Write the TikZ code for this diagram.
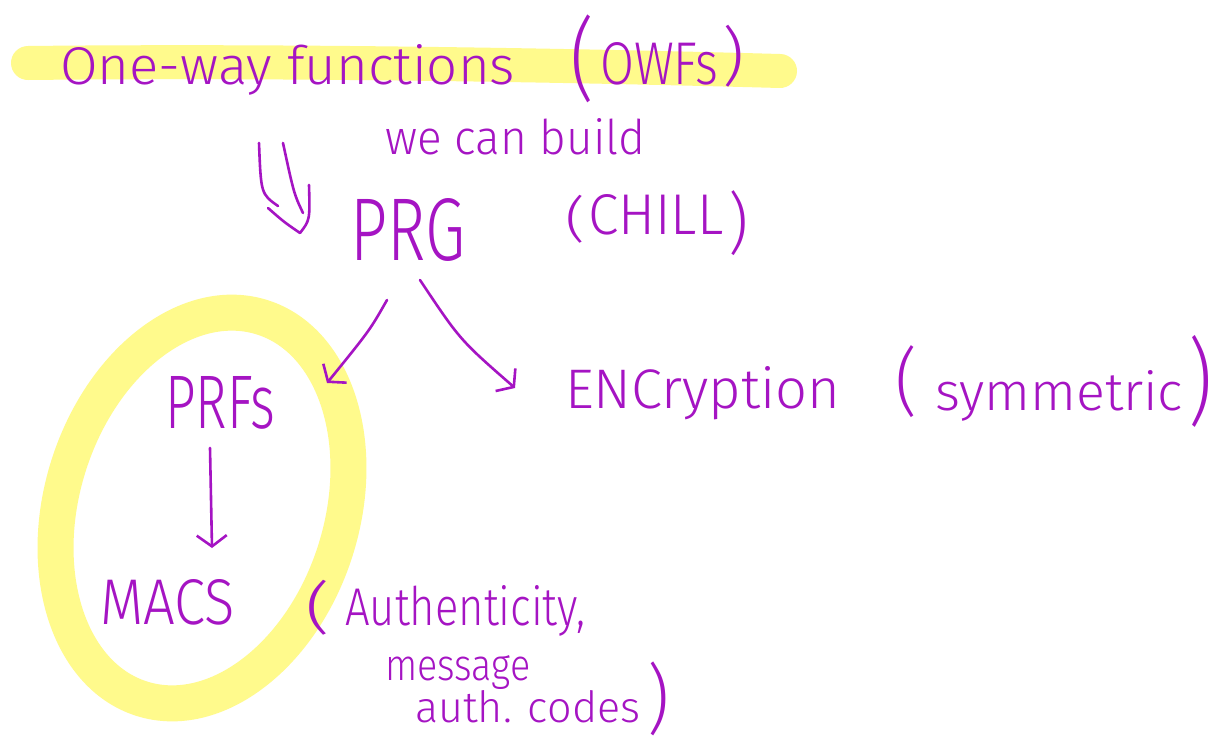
\documentclass[tikz,border=0pt]{standalone}
\usepackage{fontspec}
\usepackage{graphicx}
\usetikzlibrary{arrows.meta,calc}
\newfontfamily\hand{Fira Sans Light}
\definecolor{ink}{RGB}{165,20,195}
\definecolor{marker}{RGB}{255,250,140}
% word set to a given width and height
\newcommand\hw[3]{\resizebox{#1}{#2}{#3}}
% tall hand-drawn parenthesis (width, total height, glyph)
\newcommand\hp[3]{\resizebox*{#1}{#2}{#3}}
\tikzset{
  pen/.style={draw=ink, line width=2.6pt, line cap=round, line join=round},
  barb/.style={pen, -{Straight Barb[length=11pt, width=30pt, line width=2.6pt]}},
  word/.style={text=ink, inner sep=0pt, anchor=base west, font=\hand},
  paren/.style={text=ink, inner sep=0pt, anchor=north west, font=\hand},
  marker stroke/.style={draw=marker, line width=34pt, line cap=round}
}
\begin{document}
\begin{tikzpicture}[x=1pt, y=-1pt]
  \useasboundingbox[fill=white] (0,0) rectangle (1221,747);

  % highlighter marks
  \draw[marker stroke] (28,63) .. controls (300,60) and (600,66) .. (780,71);
  \draw[marker stroke, line width=36pt, rotate around={-17.5:(202,508)}]
    (202,508) ellipse [x radius=140pt, y radius=200pt];

  % labels
  \node[word] (owf) at (60,84) {\hw{455pt}{40pt}{One-way functions}};
  \node[paren] (lp1) at (570,15) {\hp{24pt}{88pt}{(}};
  \node[word] (owfs) at (600,84) {\hw{118pt}{42pt}{OWFs}};
  \node[paren] (rp1) at (722,25) {\hp{22pt}{62pt}{)}};

  \node[word] (build) at (385,154) {\hw{260pt}{36pt}{we can build}};

  \node[word] (prg) at (350,260) {\hw{115pt}{62pt}{PRG}};
  \node[paren] (lp2) at (565,195) {\hp{20pt}{48pt}{(}};
  \node[word] (chill) at (588,234) {\hw{135pt}{40pt}{CHILL}};
  \node[paren] (rp2) at (728,190) {\hp{20pt}{65pt}{)}};

  \node[word] (prfs) at (165,428) {\hw{110pt}{52pt}{PRFs}};
  \node[word] (enc) at (565,408) {\hw{275pt}{42pt}{ENCryption}};
  \node[paren] (lp3) at (895,345) {\hp{22pt}{72pt}{(}};
  \node[word] (sym) at (935,410) {\hw{248pt}{40pt}{symmetric}};
  \node[paren] (rp3) at (1188,335) {\hp{24pt}{92pt}{)}};

  \node[word] (macs) at (100,624) {\hw{135pt}{45pt}{MACS}};
  \node[paren] (lp4) at (305,580) {\hp{25pt}{55pt}{(}};
  \node[word] (auth) at (345,625) {\hw{240pt}{40pt}{Authenticity,}};
  \node[word] (msg) at (385,680) {\hw{145pt}{25pt}{message}};
  \node[word] (codes) at (415,722) {\hw{225pt}{32pt}{auth. codes}};
  \node[paren] (rp4) at (647,662) {\hp{22pt}{74pt}{)}};

  % double arrow: two shafts and one open head
  \coordinate (dtip) at ($(prg.base west)+(-50,-27)$);
  \draw[pen] ($(owf.base west)+(199,59)$) .. controls ($(owf.base west)+(201,110)$) .. ($(prg.base west)+(-72,-54)$);
  \draw[pen] ($(owf.base west)+(223,59)$) .. controls ($(owf.base west)+(234,110)$) .. ($(prg.base west)+(-47,-47)$);
  \draw[pen] ($(prg.base west)+(-82,-52)$) .. controls ($(prg.base west)+(-66,-38)$) .. (dtip)
             .. controls ($(prg.base west)+(-40,-40)$) .. ($(prg.base west)+(-41,-75)$);

  % single arrows
  \draw[barb] ($(prg.base west)+(37,40)$) .. controls ($(prg.base west)+(20,70)$) .. ($(prfs.base west)+(162,-45)$);
  \draw[barb] ($(prg.base west)+(70,20)$) .. controls ($(prg.base west)+(110,80)$) .. ($(enc.base west)+(-50,-20)$);
  \draw[barb] ($(prfs.base west)+(45,20)$) -- ($(macs.base west)+(112,-76)$);
\end{tikzpicture}
\end{document}
